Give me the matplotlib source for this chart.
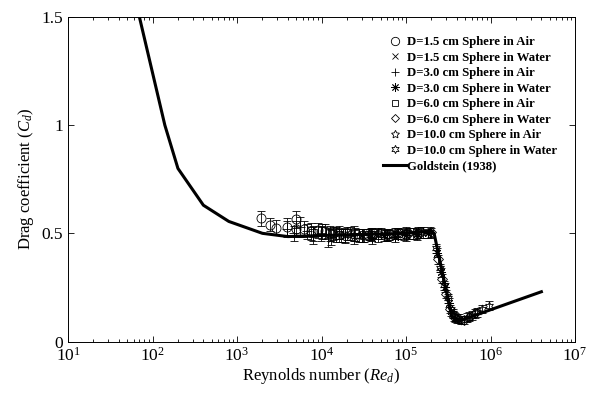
import matplotlib
matplotlib.use("Agg")
import matplotlib.pyplot as plt
from matplotlib.lines import Line2D

plt.rcParams["font.family"] = ["Liberation Serif", "DejaVu Serif"]
plt.rcParams["mathtext.fontset"] = "custom"
plt.rcParams["mathtext.rm"] = "Liberation Serif"
plt.rcParams["mathtext.it"] = "Liberation Serif:italic"
plt.rcParams["mathtext.bf"] = "Liberation Serif:bold"

# Goldstein (1938) reference curve
gold_re = [70, 140, 200, 400, 800, 2000, 4000, 10000, 30000, 100000, 200000,
           215000, 350000, 400000, 450000, 500000, 4000000]
gold_cd = [1.5, 1.0, 0.80, 0.63, 0.555, 0.50, 0.485, 0.49, 0.495, 0.50, 0.51,
           0.50, 0.11, 0.10, 0.10, 0.105, 0.23]

# D=1.5 cm sphere in air
air15_re = [1940, 2480, 2920, 3930, 5020, 5000, 6240, 7600, 9200, 11000, 13500, 16000]
air15_cd = [0.57, 0.54, 0.525, 0.53, 0.565, 0.52, 0.52, 0.51, 0.515, 0.51, 0.50, 0.505]
air15_err = [0.035, 0.03, 0.035, 0.04, 0.04, 0.035, 0.035, 0.04, 0.035, 0.035, 0.03, 0.03]

# D=1.5 cm sphere in water
wat15_re = [15000, 19000, 24000, 30000, 38000, 47000, 60000, 75000, 95000, 120000]
wat15_cd = [0.50, 0.49, 0.485, 0.49, 0.495, 0.49, 0.495, 0.50, 0.495, 0.50]
wat15_err = [0.025, 0.03, 0.035, 0.03, 0.025, 0.03, 0.025, 0.025, 0.025, 0.025]

# D=3.0 cm sphere in air
air30_re = [3900, 4700, 5600, 6700, 8000, 9800, 12000, 15000, 19000, 24000, 31000, 39000]
air30_cd = [0.52, 0.50, 0.53, 0.51, 0.49, 0.50, 0.48, 0.495, 0.49, 0.50, 0.49, 0.495]
air30_err = [0.035, 0.035, 0.045, 0.035, 0.04, 0.035, 0.045, 0.035, 0.035, 0.035, 0.03, 0.03]

# D=3.0 cm sphere in water
wat30_re = [30000, 40000, 55000, 75000, 100000, 135000, 180000, 230000, 260000,
            290000, 320000, 340000, 380000]
wat30_cd = [0.49, 0.48, 0.49, 0.485, 0.49, 0.495, 0.50, 0.41, 0.32, 0.25, 0.18, 0.14, 0.11]
wat30_err = [0.03, 0.03, 0.025, 0.025, 0.025, 0.025, 0.02, 0.02, 0.02, 0.02, 0.02, 0.02, 0.02]

# D=6.0 cm sphere in air
air60_re = [8000, 10000, 12500, 16000, 20000, 25000, 32000, 40000, 50000, 63000, 80000]
air60_cd = [0.50, 0.51, 0.50, 0.49, 0.50, 0.495, 0.49, 0.50, 0.50, 0.495, 0.50]
air60_err = [0.035, 0.035, 0.035, 0.03, 0.03, 0.03, 0.03, 0.025, 0.025, 0.025, 0.025]

# D=6.0 cm sphere in water
wat60_re = [60000, 80000, 110000, 150000, 200000, 240000, 270000, 300000, 330000,
            370000, 420000, 480000, 550000, 650000]
wat60_cd = [0.49, 0.50, 0.50, 0.505, 0.505, 0.38, 0.29, 0.22, 0.15, 0.115, 0.105,
            0.10, 0.115, 0.13]
wat60_err = [0.025, 0.025, 0.025, 0.025, 0.02, 0.02, 0.02, 0.02, 0.02, 0.02, 0.02,
             0.02, 0.02, 0.02]

# D=10.0 cm sphere in air
air100_re = [13000, 17000, 22000, 28000, 36000, 46000, 60000, 78000, 100000, 130000, 160000]
air100_cd = [0.48, 0.49, 0.50, 0.49, 0.495, 0.50, 0.49, 0.50, 0.505, 0.50, 0.505]
air100_err = [0.035, 0.03, 0.03, 0.03, 0.025, 0.025, 0.025, 0.025, 0.025, 0.025, 0.025]

# D=10.0 cm sphere in water
wat100_re = [100000, 140000, 190000, 225000, 255000, 285000, 315000, 360000, 400000,
             450000, 520000, 600000, 700000, 800000, 950000]
wat100_cd = [0.50, 0.505, 0.505, 0.43, 0.34, 0.26, 0.20, 0.13, 0.105, 0.10, 0.11,
             0.12, 0.135, 0.15, 0.165]
wat100_err = [0.025, 0.025, 0.025, 0.02, 0.02, 0.02, 0.02, 0.02, 0.02, 0.02, 0.02,
              0.02, 0.02, 0.02, 0.02]

series = [
    (air15_re, air15_cd, air15_err, "o", "D=1.5 cm Sphere in Air"),
    (wat15_re, wat15_cd, wat15_err, "x", "D=1.5 cm Sphere in Water"),
    (air30_re, air30_cd, air30_err, "+", "D=3.0 cm Sphere in Air"),
    (wat30_re, wat30_cd, wat30_err, (8, 2, 0), "D=3.0 cm Sphere in Water"),
    (air60_re, air60_cd, air60_err, "s", "D=6.0 cm Sphere in Air"),
    (wat60_re, wat60_cd, wat60_err, "D", "D=6.0 cm Sphere in Water"),
    (air100_re, air100_cd, air100_err, (5, 1, 0), "D=10.0 cm Sphere in Air"),
    (wat100_re, wat100_cd, wat100_err, (6, 1, 0), "D=10.0 cm Sphere in Water"),
]
sizes = {"o": 6.5, "x": 5.5, "+": 6.5, "s": 5.5, "D": 5}

fig = plt.figure(figsize=(5.95, 3.94), dpi=100)
ax = fig.add_axes([68 / 595, 1 - 341.5 / 394, 507 / 595, 324.5 / 394])

handles = []
for re, cd, err, mk, lab in series:
    ms = sizes.get(mk, 6.5) if isinstance(mk, str) else 6.5
    ax.errorbar(re, cd, yerr=err, fmt="none", ecolor="k", elinewidth=0.6,
                capsize=3.2, capthick=0.6, zorder=2)
    ax.plot(re, cd, linestyle="none", marker=mk, ms=ms, mfc="none", mec="k",
            mew=0.6, zorder=3)
    handles.append(Line2D([], [], linestyle="none", marker=mk, ms=ms - 0.5, mfc="none",
                          mec="k", mew=0.6, label=lab))

ax.plot(gold_re, gold_cd, color="k", lw=2.2, zorder=4)
handles.append(Line2D([], [], color="k", lw=2.2, label="Goldstein (1938)"))

ax.set_xscale("log")
ax.set_xlim(10, 1e7)
ax.set_ylim(0, 1.5)
ax.set_yticks([0, 0.5, 1, 1.5])
ax.set_yticklabels(["0", "0.5", "1", "1.5"])
ax.tick_params(which="both", direction="in", top=True, right=True, labelsize=12.5)
ax.tick_params(which="major", length=4, width=0.6)
ax.tick_params(which="minor", length=2.5, width=0.6)
for sp in ax.spines.values():
    sp.set_linewidth(0.7)

ax.set_xlabel(r"Reynolds number ($Re_d$)", fontsize=12, labelpad=1)
ax.set_ylabel(r"Drag coefficient ($C_d$)", fontsize=12, labelpad=4)

ax.legend(handles=handles, loc="upper left", bbox_to_anchor=(315 / 507, 0.94),
          frameon=False, borderpad=0, borderaxespad=0, handlelength=1.8,
          handletextpad=0.1, labelspacing=0.27,
          prop={"family": "Liberation Serif", "weight": "bold", "size": 9.2})

fig.savefig("out.png", dpi=100)
